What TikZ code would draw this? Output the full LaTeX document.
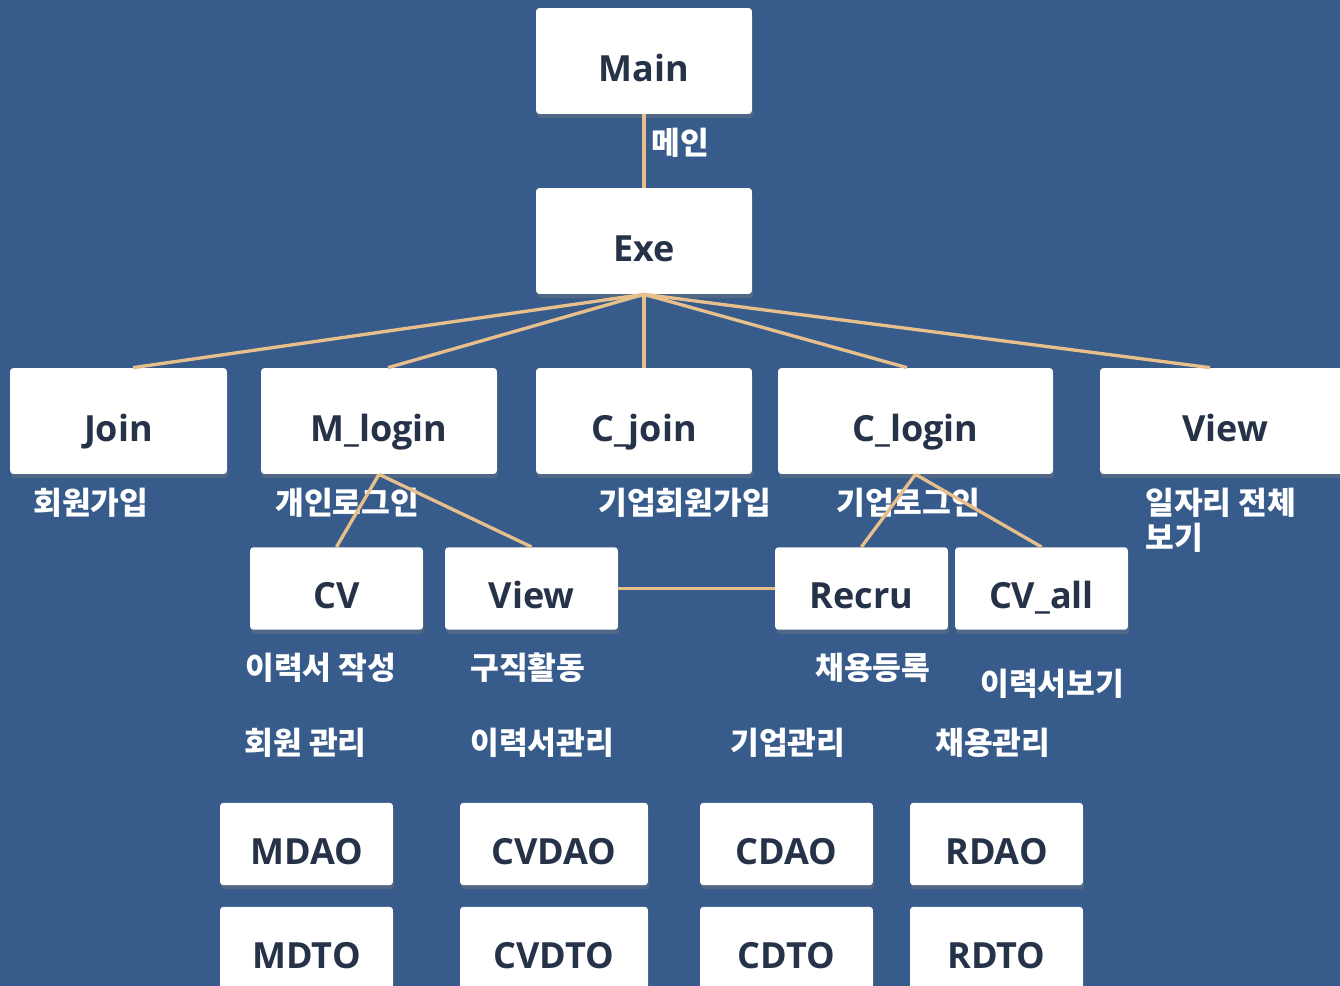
\documentclass[tikz,border=0pt]{standalone}
\usepackage{fontspec}
\setmainfont{Open Sans}
\newfontfamily\krfont{Noto Sans CJK KR}
\usetikzlibrary{positioning,shadows,scopes}

\definecolor{bgblue}{HTML}{375B8A}
\definecolor{boxtext}{HTML}{263248}
\definecolor{linktan}{HTML}{E6BF8C}

\tikzset{
  module/.style={fill=white,rounded corners=2pt,inner sep=0pt,text=boxtext,
    font=\bfseries\fontsize{20.5}{25}\selectfont,text height=23pt,text depth=0pt,
    drop shadow={opacity=0.35,shadow xshift=0.6pt,shadow yshift=-2.4pt}},
  topbox/.style={module,minimum height=2.12cm},
  subbox/.style={module,minimum height=1.65cm},
  note/.style={anchor=west,inner sep=0pt,text=white,align=left,
    font=\krfont\bfseries\fontsize{17.8}{19.8}\selectfont},
  link/.style={draw=linktan,line width=1.9pt}
}

\begin{document}
\begin{tikzpicture}[x=0.02cm,y=-0.02cm]
  \fill[bgblue] (0,0) rectangle (1340,986);
  \useasboundingbox (0,0) rectangle (1340,986);
  \clip (0,0) rectangle (1340,986);

  % top
  \node[topbox,minimum width=4.32cm] (main) at (644,61) {Main};
  \node[topbox,minimum width=4.32cm] (exe) at (644,241) {Exe};

  % first level
  \node[topbox,minimum width=4.34cm] (join) at (118.5,421) {Join};
  \node[topbox,minimum width=4.72cm] (mlogin) at (379,421) {M\_login};
  \node[topbox,minimum width=4.32cm] (cjoin) at (644,421) {C\_join};
  \node[topbox,minimum width=5.5cm] (clogin) at (915.5,421) {C\_login};
  \node[topbox,minimum width=5cm] (view) at (1225,421) {View};

  % second level
  \node[subbox,minimum width=3.46cm] (cv) at (336.5,588.5) {CV};
  \node[subbox,minimum width=3.46cm] (mview) at (531.5,588.5) {View};
  \node[subbox,minimum width=3.46cm] (recru) at (861.5,588.5) {Recru};
  \node[subbox,minimum width=3.46cm] (cvall) at (1041.5,588.5) {CV\_all};

  % dao / dto
  \node[subbox,minimum width=3.46cm] (mdao) at (306.5,844) {MDAO};
  \node[subbox,minimum width=3.76cm] (cvdao) at (554,844) {CVDAO};
  \node[subbox,minimum width=3.46cm] (cdao) at (786.5,844) {CDAO};
  \node[subbox,minimum width=3.46cm] (rdao) at (996.5,844) {RDAO};
  \node[subbox,minimum width=3.46cm] (mdto) at (306.5,948) {MDTO};
  \node[subbox,minimum width=3.76cm] (cvdto) at (554,948) {CVDTO};
  \node[subbox,minimum width=3.46cm] (cdto) at (786.5,948) {CDTO};
  \node[subbox,minimum width=3.46cm] (rdto) at (996.5,948) {RDTO};

  % labels
  \node[note] (tmain) at (651,143) {메인};
  \node[note] (tjoin) at (33,503) {회원가입};
  \node[note] (tmlogin) at (275,503) {개인로그인};
  \node[note] (tcjoin) at (598,503) {기업회원가입};
  \node[note] (tclogin) at (836,503) {기업로그인};
  \node[note] (tview) at (1145,520.5) {일자리 전체\\보기};
  \node[note] (tcv) at (245,668) {이력서 작성};
  \node[note] (tmview) at (470,668) {구직활동};
  \node[note] (trecru) at (815,668) {채용등록};
  \node[note] (tcvall) at (980,684) {이력서보기};
  \node[note] (tmdao) at (244,743) {회원 관리};
  \node[note] (tcvdao) at (470,743) {이력서관리};
  \node[note] (tcdao) at (730,743) {기업관리};
  \node[note] (trdao) at (935,743) {채용관리};

  {[link]
    \draw (main.south) -- (exe.north);
    \draw (exe.south) -- ([xshift=0.29cm]join.north);
    \draw (exe.south) -- ([xshift=0.18cm]mlogin.north);
    \draw (exe.south) -- (cjoin.north);
    \draw (exe.south) -- ([xshift=-0.17cm]clogin.north);
    \draw (exe.south) -- ([xshift=-0.3cm]view.north);
    \draw (mlogin.south) -- (cv.north);
    \draw (mlogin.south) -- (mview.north);
    \draw (clogin.south) -- (recru.north);
    \draw (clogin.south) -- (cvall.north);
    \draw (mview.east) -- (recru.west);
  }
\end{tikzpicture}
\end{document}
